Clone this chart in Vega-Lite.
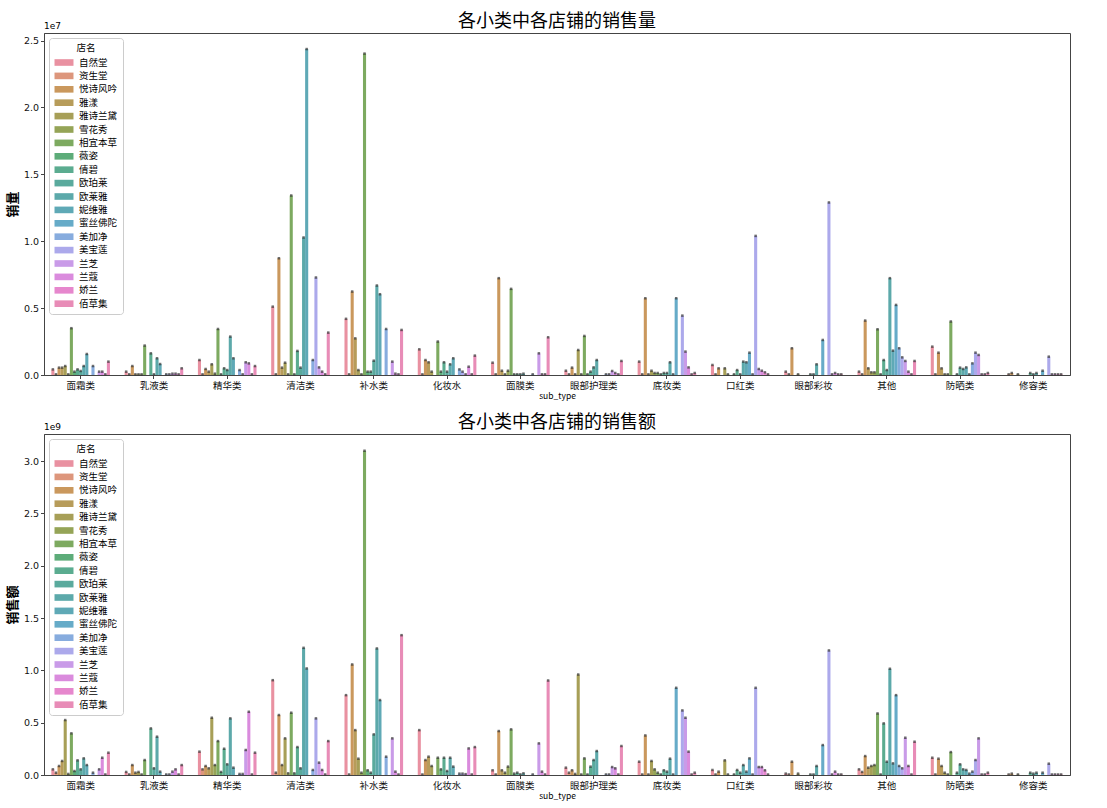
{
"$schema": "https://vega.github.io/schema/vega-lite/v6.json",
"padding": {"left": 5, "top": 12, "right": 5, "bottom": 2},
"data": {"values": [
{"t":"面霜类","s":"自然堂","q":420000,"a":54000000},
{"t":"面霜类","s":"资生堂","q":50000,"a":22000000},
{"t":"面霜类","s":"悦诗风吟","q":550000,"a":86000000},
{"t":"面霜类","s":"雅漾","q":550000,"a":134000000},
{"t":"面霜类","s":"雅诗兰黛","q":670000,"a":525000000},
{"t":"面霜类","s":"雪花秀","q":50000,"a":10000000},
{"t":"面霜类","s":"相宜本草","q":3500000,"a":398000000},
{"t":"面霜类","s":"薇姿","q":250000,"a":38000000},
{"t":"面霜类","s":"倩碧","q":420000,"a":140000000},
{"t":"面霜类","s":"欧珀莱","q":300000,"a":54000000},
{"t":"面霜类","s":"欧莱雅","q":670000,"a":159000000},
{"t":"面霜类","s":"妮维雅","q":1570000,"a":95000000},
{"t":"面霜类","s":"美加净","q":670000,"a":22000000},
{"t":"面霜类","s":"兰芝","q":250000,"a":54000000},
{"t":"面霜类","s":"兰蔻","q":250000,"a":165000000},
{"t":"面霜类","s":"娇兰","q":50000,"a":5000000},
{"t":"面霜类","s":"佰草集","q":1000000,"a":213000000},
{"t":"乳液类","s":"自然堂","q":250000,"a":29000000},
{"t":"乳液类","s":"资生堂","q":50000,"a":5000000},
{"t":"乳液类","s":"悦诗风吟","q":670000,"a":95000000},
{"t":"乳液类","s":"雅漾","q":50000,"a":22000000},
{"t":"乳液类","s":"雅诗兰黛","q":50000,"a":29000000},
{"t":"乳液类","s":"雪花秀","q":50000,"a":5000000},
{"t":"乳液类","s":"相宜本草","q":2200000,"a":143000000},
{"t":"乳液类","s":"倩碧","q":1620000,"a":445000000},
{"t":"乳液类","s":"欧珀莱","q":50000,"a":64000000},
{"t":"乳液类","s":"欧莱雅","q":1250000,"a":366000000},
{"t":"乳液类","s":"妮维雅","q":820000,"a":32000000},
{"t":"乳液类","s":"美加净","q":50000,"a":5000000},
{"t":"乳液类","s":"美宝莲","q":50000,"a":5000000},
{"t":"乳液类","s":"兰芝","q":100000,"a":32000000},
{"t":"乳液类","s":"兰蔻","q":100000,"a":54000000},
{"t":"乳液类","s":"娇兰","q":50000,"a":5000000},
{"t":"乳液类","s":"佰草集","q":500000,"a":95000000},
{"t":"精华类","s":"自然堂","q":1120000,"a":223000000},
{"t":"精华类","s":"资生堂","q":50000,"a":54000000},
{"t":"精华类","s":"悦诗风吟","q":450000,"a":86000000},
{"t":"精华类","s":"雅漾","q":250000,"a":64000000},
{"t":"精华类","s":"雅诗兰黛","q":800000,"a":547000000},
{"t":"精华类","s":"雪花秀","q":100000,"a":95000000},
{"t":"精华类","s":"相宜本草","q":3440000,"a":324000000},
{"t":"精华类","s":"薇姿","q":50000,"a":29000000},
{"t":"精华类","s":"倩碧","q":500000,"a":251000000},
{"t":"精华类","s":"欧珀莱","q":370000,"a":102000000},
{"t":"精华类","s":"欧莱雅","q":2870000,"a":541000000},
{"t":"精华类","s":"妮维雅","q":1250000,"a":70000000},
{"t":"精华类","s":"美加净","q":370000,"a":10000000},
{"t":"精华类","s":"美宝莲","q":50000,"a":10000000},
{"t":"精华类","s":"兰芝","q":950000,"a":239000000},
{"t":"精华类","s":"兰蔻","q":870000,"a":604000000},
{"t":"精华类","s":"娇兰","q":50000,"a":5000000},
{"t":"精华类","s":"佰草集","q":670000,"a":213000000},
{"t":"清洁类","s":"自然堂","q":5110000,"a":906000000},
{"t":"清洁类","s":"资生堂","q":50000,"a":22000000},
{"t":"清洁类","s":"悦诗风吟","q":8730000,"a":573000000},
{"t":"清洁类","s":"雅漾","q":550000,"a":95000000},
{"t":"清洁类","s":"雅诗兰黛","q":920000,"a":350000000},
{"t":"清洁类","s":"雪花秀","q":50000,"a":16000000},
{"t":"清洁类","s":"相宜本草","q":13420000,"a":595000000},
{"t":"清洁类","s":"薇姿","q":50000,"a":16000000},
{"t":"清洁类","s":"倩碧","q":1800000,"a":267000000},
{"t":"清洁类","s":"欧珀莱","q":550000,"a":64000000},
{"t":"清洁类","s":"欧莱雅","q":10280000,"a":1215000000},
{"t":"清洁类","s":"妮维雅","q":24370000,"a":1018000000},
{"t":"清洁类","s":"美加净","q":1120000,"a":48000000},
{"t":"清洁类","s":"美宝莲","q":7290000,"a":541000000},
{"t":"清洁类","s":"兰芝","q":570000,"a":118000000},
{"t":"清洁类","s":"兰蔻","q":250000,"a":48000000},
{"t":"清洁类","s":"娇兰","q":50000,"a":5000000},
{"t":"清洁类","s":"佰草集","q":3170000,"a":324000000},
{"t":"补水类","s":"自然堂","q":4200000,"a":763000000},
{"t":"补水类","s":"资生堂","q":50000,"a":5000000},
{"t":"补水类","s":"悦诗风吟","q":6240000,"a":1056000000},
{"t":"补水类","s":"雅漾","q":2740000,"a":429000000},
{"t":"补水类","s":"雅诗兰黛","q":370000,"a":156000000},
{"t":"补水类","s":"雪花秀","q":50000,"a":22000000},
{"t":"补水类","s":"相宜本草","q":24030000,"a":3098000000},
{"t":"补水类","s":"薇姿","q":250000,"a":45000000},
{"t":"补水类","s":"倩碧","q":250000,"a":22000000},
{"t":"补水类","s":"欧珀莱","q":1070000,"a":388000000},
{"t":"补水类","s":"欧莱雅","q":6690000,"a":1209000000},
{"t":"补水类","s":"妮维雅","q":6040000,"a":716000000},
{"t":"补水类","s":"美加净","q":3440000,"a":175000000},
{"t":"补水类","s":"兰芝","q":1000000,"a":350000000},
{"t":"补水类","s":"兰蔻","q":100000,"a":32000000},
{"t":"补水类","s":"娇兰","q":50000,"a":5000000},
{"t":"补水类","s":"佰草集","q":3370000,"a":1336000000},
{"t":"化妆水","s":"自然堂","q":1920000,"a":429000000},
{"t":"化妆水","s":"资生堂","q":50000,"a":5000000},
{"t":"化妆水","s":"悦诗风吟","q":1120000,"a":143000000},
{"t":"化妆水","s":"雅漾","q":950000,"a":175000000},
{"t":"化妆水","s":"雅诗兰黛","q":250000,"a":86000000},
{"t":"化妆水","s":"相宜本草","q":2500000,"a":165000000},
{"t":"化妆水","s":"薇姿","q":250000,"a":54000000},
{"t":"化妆水","s":"倩碧","q":950000,"a":165000000},
{"t":"化妆水","s":"欧珀莱","q":250000,"a":38000000},
{"t":"化妆水","s":"欧莱雅","q":800000,"a":165000000},
{"t":"化妆水","s":"妮维雅","q":1250000,"a":80000000},
{"t":"化妆水","s":"美加净","q":420000,"a":13000000},
{"t":"化妆水","s":"美宝莲","q":250000,"a":13000000},
{"t":"化妆水","s":"兰芝","q":50000,"a":8000000},
{"t":"化妆水","s":"兰蔻","q":620000,"a":254000000},
{"t":"化妆水","s":"娇兰","q":50000,"a":5000000},
{"t":"化妆水","s":"佰草集","q":1450000,"a":267000000},
{"t":"面膜类","s":"自然堂","q":920000,"a":45000000},
{"t":"面膜类","s":"资生堂","q":50000,"a":5000000},
{"t":"面膜类","s":"悦诗风吟","q":7240000,"a":420000000},
{"t":"面膜类","s":"雅漾","q":320000,"a":45000000},
{"t":"面膜类","s":"雅诗兰黛","q":50000,"a":22000000},
{"t":"面膜类","s":"雪花秀","q":320000,"a":80000000},
{"t":"面膜类","s":"相宜本草","q":6440000,"a":436000000},
{"t":"面膜类","s":"薇姿","q":50000,"a":13000000},
{"t":"面膜类","s":"倩碧","q":50000,"a":22000000},
{"t":"面膜类","s":"欧珀莱","q":50000,"a":6000000},
{"t":"面膜类","s":"欧莱雅","q":100000,"a":16000000},
{"t":"面膜类","s":"美加净","q":50000,"a":5000000},
{"t":"面膜类","s":"兰芝","q":1620000,"a":302000000},
{"t":"面膜类","s":"兰蔻","q":50000,"a":32000000},
{"t":"面膜类","s":"娇兰","q":50000,"a":5000000},
{"t":"面膜类","s":"佰草集","q":2820000,"a":903000000},
{"t":"眼部护理类","s":"自然堂","q":320000,"a":70000000},
{"t":"眼部护理类","s":"资生堂","q":50000,"a":22000000},
{"t":"眼部护理类","s":"悦诗风吟","q":550000,"a":45000000},
{"t":"眼部护理类","s":"雅漾","q":50000,"a":10000000},
{"t":"眼部护理类","s":"雅诗兰黛","q":1870000,"a":960000000},
{"t":"眼部护理类","s":"雪花秀","q":50000,"a":5000000},
{"t":"眼部护理类","s":"相宜本草","q":2920000,"a":159000000},
{"t":"眼部护理类","s":"薇姿","q":50000,"a":5000000},
{"t":"眼部护理类","s":"倩碧","q":250000,"a":80000000},
{"t":"眼部护理类","s":"欧珀莱","q":570000,"a":143000000},
{"t":"眼部护理类","s":"欧莱雅","q":1120000,"a":229000000},
{"t":"眼部护理类","s":"美加净","q":50000,"a":5000000},
{"t":"眼部护理类","s":"美宝莲","q":50000,"a":5000000},
{"t":"眼部护理类","s":"兰芝","q":300000,"a":76000000},
{"t":"眼部护理类","s":"兰蔻","q":150000,"a":64000000},
{"t":"眼部护理类","s":"娇兰","q":50000,"a":5000000},
{"t":"眼部护理类","s":"佰草集","q":1050000,"a":277000000},
{"t":"底妆类","s":"自然堂","q":1000000,"a":127000000},
{"t":"底妆类","s":"资生堂","q":50000,"a":5000000},
{"t":"底妆类","s":"悦诗风吟","q":5740000,"a":378000000},
{"t":"底妆类","s":"雅漾","q":50000,"a":5000000},
{"t":"底妆类","s":"雅诗兰黛","q":320000,"a":134000000},
{"t":"底妆类","s":"雪花秀","q":150000,"a":54000000},
{"t":"底妆类","s":"相宜本草","q":150000,"a":22000000},
{"t":"底妆类","s":"薇姿","q":50000,"a":5000000},
{"t":"底妆类","s":"倩碧","q":150000,"a":45000000},
{"t":"底妆类","s":"欧珀莱","q":150000,"a":32000000},
{"t":"底妆类","s":"欧莱雅","q":950000,"a":156000000},
{"t":"底妆类","s":"妮维雅","q":50000,"a":5000000},
{"t":"底妆类","s":"蜜丝佛陀","q":5740000,"a":833000000},
{"t":"底妆类","s":"美宝莲","q":4440000,"a":617000000},
{"t":"底妆类","s":"兰芝","q":1750000,"a":547000000},
{"t":"底妆类","s":"兰蔻","q":570000,"a":223000000},
{"t":"底妆类","s":"娇兰","q":50000,"a":5000000},
{"t":"底妆类","s":"佰草集","q":150000,"a":22000000},
{"t":"口红类","s":"自然堂","q":750000,"a":48000000},
{"t":"口红类","s":"资生堂","q":50000,"a":5000000},
{"t":"口红类","s":"悦诗风吟","q":500000,"a":32000000},
{"t":"口红类","s":"雅诗兰黛","q":500000,"a":140000000},
{"t":"口红类","s":"雪花秀","q":50000,"a":5000000},
{"t":"口红类","s":"薇姿","q":50000,"a":5000000},
{"t":"口红类","s":"倩碧","q":370000,"a":48000000},
{"t":"口红类","s":"欧珀莱","q":50000,"a":22000000},
{"t":"口红类","s":"欧莱雅","q":1000000,"a":95000000},
{"t":"口红类","s":"妮维雅","q":950000,"a":32000000},
{"t":"口红类","s":"蜜丝佛陀","q":1670000,"a":159000000},
{"t":"口红类","s":"美加净","q":50000,"a":5000000},
{"t":"口红类","s":"美宝莲","q":10400000,"a":833000000},
{"t":"口红类","s":"兰芝","q":450000,"a":76000000},
{"t":"口红类","s":"兰蔻","q":320000,"a":76000000},
{"t":"口红类","s":"娇兰","q":200000,"a":45000000},
{"t":"口红类","s":"佰草集","q":50000,"a":5000000},
{"t":"眼部彩妆","s":"自然堂","q":250000,"a":13000000},
{"t":"眼部彩妆","s":"资生堂","q":50000,"a":5000000},
{"t":"眼部彩妆","s":"悦诗风吟","q":2000000,"a":127000000},
{"t":"眼部彩妆","s":"雅诗兰黛","q":50000,"a":13000000},
{"t":"眼部彩妆","s":"倩碧","q":50000,"a":5000000},
{"t":"眼部彩妆","s":"欧珀莱","q":50000,"a":5000000},
{"t":"眼部彩妆","s":"欧莱雅","q":800000,"a":86000000},
{"t":"眼部彩妆","s":"蜜丝佛陀","q":2620000,"a":286000000},
{"t":"眼部彩妆","s":"美宝莲","q":12900000,"a":1190000000},
{"t":"眼部彩妆","s":"兰芝","q":50000,"a":5000000},
{"t":"眼部彩妆","s":"兰蔻","q":150000,"a":32000000},
{"t":"眼部彩妆","s":"娇兰","q":50000,"a":5000000},
{"t":"眼部彩妆","s":"佰草集","q":50000,"a":5000000},
{"t":"其他","s":"自然堂","q":250000,"a":54000000},
{"t":"其他","s":"资生堂","q":50000,"a":29000000},
{"t":"其他","s":"悦诗风吟","q":4070000,"a":181000000},
{"t":"其他","s":"雅漾","q":500000,"a":70000000},
{"t":"其他","s":"雅诗兰黛","q":200000,"a":86000000},
{"t":"其他","s":"雪花秀","q":200000,"a":95000000},
{"t":"其他","s":"相宜本草","q":3420000,"a":588000000},
{"t":"其他","s":"薇姿","q":50000,"a":5000000},
{"t":"其他","s":"倩碧","q":1120000,"a":493000000},
{"t":"其他","s":"欧珀莱","q":370000,"a":127000000},
{"t":"其他","s":"欧莱雅","q":7240000,"a":1015000000},
{"t":"其他","s":"妮维雅","q":1820000,"a":111000000},
{"t":"其他","s":"蜜丝佛陀","q":5240000,"a":763000000},
{"t":"其他","s":"美加净","q":2000000,"a":86000000},
{"t":"其他","s":"美宝莲","q":1320000,"a":64000000},
{"t":"其他","s":"兰芝","q":1050000,"a":356000000},
{"t":"其他","s":"兰蔻","q":250000,"a":86000000},
{"t":"其他","s":"娇兰","q":50000,"a":5000000},
{"t":"其他","s":"佰草集","q":1050000,"a":318000000},
{"t":"防晒类","s":"自然堂","q":2120000,"a":165000000},
{"t":"防晒类","s":"资生堂","q":50000,"a":5000000},
{"t":"防晒类","s":"悦诗风吟","q":1670000,"a":156000000},
{"t":"防晒类","s":"雅漾","q":500000,"a":86000000},
{"t":"防晒类","s":"雅诗兰黛","q":50000,"a":22000000},
{"t":"防晒类","s":"雪花秀","q":50000,"a":5000000},
{"t":"防晒类","s":"相宜本草","q":4000000,"a":219000000},
{"t":"防晒类","s":"倩碧","q":50000,"a":22000000},
{"t":"防晒类","s":"欧珀莱","q":550000,"a":102000000},
{"t":"防晒类","s":"欧莱雅","q":450000,"a":54000000},
{"t":"防晒类","s":"妮维雅","q":570000,"a":48000000},
{"t":"防晒类","s":"蜜丝佛陀","q":50000,"a":13000000},
{"t":"防晒类","s":"美加净","q":870000,"a":32000000},
{"t":"防晒类","s":"美宝莲","q":1670000,"a":143000000},
{"t":"防晒类","s":"兰芝","q":1500000,"a":350000000},
{"t":"防晒类","s":"兰蔻","q":50000,"a":5000000},
{"t":"防晒类","s":"娇兰","q":50000,"a":5000000},
{"t":"防晒类","s":"佰草集","q":150000,"a":22000000},
{"t":"修容类","s":"资生堂","q":50000,"a":5000000},
{"t":"修容类","s":"悦诗风吟","q":150000,"a":13000000},
{"t":"修容类","s":"雅诗兰黛","q":50000,"a":5000000},
{"t":"修容类","s":"倩碧","q":150000,"a":22000000},
{"t":"修容类","s":"欧珀莱","q":50000,"a":13000000},
{"t":"修容类","s":"欧莱雅","q":150000,"a":22000000},
{"t":"修容类","s":"蜜丝佛陀","q":320000,"a":22000000},
{"t":"修容类","s":"美宝莲","q":1370000,"a":108000000},
{"t":"修容类","s":"兰芝","q":50000,"a":5000000},
{"t":"修容类","s":"兰蔻","q":50000,"a":5000000},
{"t":"修容类","s":"娇兰","q":50000,"a":5000000},
{"t":"修容类","s":"佰草集","q":50000,"a":5000000}
]},
"vconcat": [
{
"width": 1026, "height": 342,
"title": {"text": "各小类中各店铺的销售量", "fontSize": 18, "fontWeight": "normal", "offset": -9},
"layer": [
{"mark": {"type": "bar", "fillOpacity": 0.88},
 "encoding": {
  "x": {"field": "t", "type": "nominal", "sort": ["面霜类","乳液类","精华类","清洁类","补水类","化妆水","面膜类","眼部护理类","底妆类","口红类","眼部彩妆","其他","防晒类","修容类"], "scale": {"paddingInner": 0.2, "paddingOuter": 0.1}, "axis": {"title": "sub_type", "labelAngle": 0}},
  "xOffset": {"field": "s", "type": "nominal", "sort": ["自然堂","资生堂","悦诗风吟","雅漾","雅诗兰黛","雪花秀","相宜本草","薇姿","倩碧","欧珀莱","欧莱雅","妮维雅","蜜丝佛陀","美加净","美宝莲","兰芝","兰蔻","娇兰","佰草集"], "scale": {"paddingInner": 0, "paddingOuter": 0}},
  "y": {"field": "q", "type": "quantitative", "scale": {"domain": [0, 25570000], "nice": false}, "axis": {"title": "销量", "values": [0, 5000000, 10000000, 15000000, 20000000, 25000000], "labelExpr": "format(datum.value / 10000000, '.1f')"}},
  "color": {"field": "s", "type": "nominal", "sort": ["自然堂","资生堂","悦诗风吟","雅漾","雅诗兰黛","雪花秀","相宜本草","薇姿","倩碧","欧珀莱","欧莱雅","妮维雅","蜜丝佛陀","美加净","美宝莲","兰芝","兰蔻","娇兰","佰草集"], "scale": {"domain": ["自然堂","资生堂","悦诗风吟","雅漾","雅诗兰黛","雪花秀","相宜本草","薇姿","倩碧","欧珀莱","欧莱雅","妮维雅","蜜丝佛陀","美加净","美宝莲","兰芝","兰蔻","娇兰","佰草集"], "range": ["#e68294","#d8876a","#c38a47","#ad8e43","#9b9240","#869740","#6b9e4a","#47a167","#44a081","#439e8f","#459d9e","#499dac","#519fc0","#76a0da","#a19de8","#c18de5","#d57bd8","#e376c6","#e57cad"]}, "legend": {"title": "店名"}}
 }},
{"mark": {"type": "tick", "color": "#333", "orient": "horizontal", "size": 2.5, "thickness": 2.5},
 "encoding": {
  "x": {"field": "t", "type": "nominal", "sort": ["面霜类","乳液类","精华类","清洁类","补水类","化妆水","面膜类","眼部护理类","底妆类","口红类","眼部彩妆","其他","防晒类","修容类"]},
  "xOffset": {"field": "s", "type": "nominal", "sort": ["自然堂","资生堂","悦诗风吟","雅漾","雅诗兰黛","雪花秀","相宜本草","薇姿","倩碧","欧珀莱","欧莱雅","妮维雅","蜜丝佛陀","美加净","美宝莲","兰芝","兰蔻","娇兰","佰草集"]},
  "y": {"field": "q", "type": "quantitative"}
 }},
{"data": {"values": [{"lab": "1e7"}]},
 "mark": {"type": "text", "align": "left", "baseline": "bottom", "fontSize": 9, "dy": -2, "font": "DejaVu Sans"},
 "encoding": {"x": {"value": 0}, "y": {"value": 0}, "text": {"field": "lab"}}}
]
},
{
"width": 1026, "height": 341,
"title": {"text": "各小类中各店铺的销售额", "fontSize": 18, "fontWeight": "normal", "offset": -9},
"layer": [
{"mark": {"type": "bar", "fillOpacity": 0.88},
 "encoding": {
  "x": {"field": "t", "type": "nominal", "sort": ["面霜类","乳液类","精华类","清洁类","补水类","化妆水","面膜类","眼部护理类","底妆类","口红类","眼部彩妆","其他","防晒类","修容类"], "scale": {"paddingInner": 0.2, "paddingOuter": 0.1}, "axis": {"title": "sub_type", "labelAngle": 0}},
  "xOffset": {"field": "s", "type": "nominal", "sort": ["自然堂","资生堂","悦诗风吟","雅漾","雅诗兰黛","雪花秀","相宜本草","薇姿","倩碧","欧珀莱","欧莱雅","妮维雅","蜜丝佛陀","美加净","美宝莲","兰芝","兰蔻","娇兰","佰草集"], "scale": {"paddingInner": 0, "paddingOuter": 0}},
  "y": {"field": "a", "type": "quantitative", "scale": {"domain": [0, 3258000000], "nice": false}, "axis": {"title": "销售额", "values": [0, 500000000, 1000000000, 1500000000, 2000000000, 2500000000, 3000000000], "labelExpr": "format(datum.value / 1000000000, '.1f')"}},
  "color": {"field": "s", "type": "nominal", "sort": ["自然堂","资生堂","悦诗风吟","雅漾","雅诗兰黛","雪花秀","相宜本草","薇姿","倩碧","欧珀莱","欧莱雅","妮维雅","蜜丝佛陀","美加净","美宝莲","兰芝","兰蔻","娇兰","佰草集"], "scale": {"domain": ["自然堂","资生堂","悦诗风吟","雅漾","雅诗兰黛","雪花秀","相宜本草","薇姿","倩碧","欧珀莱","欧莱雅","妮维雅","蜜丝佛陀","美加净","美宝莲","兰芝","兰蔻","娇兰","佰草集"], "range": ["#e68294","#d8876a","#c38a47","#ad8e43","#9b9240","#869740","#6b9e4a","#47a167","#44a081","#439e8f","#459d9e","#499dac","#519fc0","#76a0da","#a19de8","#c18de5","#d57bd8","#e376c6","#e57cad"]}, "legend": {"title": "店名"}}
 }},
{"mark": {"type": "tick", "color": "#333", "orient": "horizontal", "size": 2.5, "thickness": 2.5},
 "encoding": {
  "x": {"field": "t", "type": "nominal", "sort": ["面霜类","乳液类","精华类","清洁类","补水类","化妆水","面膜类","眼部护理类","底妆类","口红类","眼部彩妆","其他","防晒类","修容类"]},
  "xOffset": {"field": "s", "type": "nominal", "sort": ["自然堂","资生堂","悦诗风吟","雅漾","雅诗兰黛","雪花秀","相宜本草","薇姿","倩碧","欧珀莱","欧莱雅","妮维雅","蜜丝佛陀","美加净","美宝莲","兰芝","兰蔻","娇兰","佰草集"]},
  "y": {"field": "a", "type": "quantitative"}
 }},
{"data": {"values": [{"lab": "1e9"}]},
 "mark": {"type": "text", "align": "left", "baseline": "bottom", "fontSize": 9, "dy": -2, "font": "DejaVu Sans"},
 "encoding": {"x": {"value": 0}, "y": {"value": 0}, "text": {"field": "lab"}}}
]
}
],
"resolve": {"legend": {"color": "independent"}, "scale": {"y": "independent"}},
"config": {
 "font": "Noto Sans CJK SC",
 "view": {"stroke": "#444", "strokeWidth": 1},
 "concat": {"spacing": 13},
 "title": {"font": "Noto Sans CJK SC", "color": "#000"},
 "axis": {"domainColor": "#444", "tickColor": "#444", "labelColor": "#111", "grid": false, "tickSize": 3.5, "labelFontSize": 9.5, "labelFont": "Noto Sans CJK SC", "titleFont": "Noto Sans CJK SC", "titleColor": "#000"},
 "axisX": {"titleFontSize": 8.5, "titleFontWeight": "normal", "titlePadding": 1, "labelPadding": 2},
 "axisY": {"titleFontSize": 13, "titleFontWeight": "bold", "titlePadding": 4, "labelFont": "DejaVu Sans", "labelFontSize": 9.5},
 "legend": {"orient": "top-left", "offset": 5, "titleFontSize": 9.5, "titleFontWeight": "normal", "titleAnchor": "middle", "labelFontSize": 9.5, "symbolType": "M-2,-0.7L2,-0.7L2,0.7L-2,0.7Z", "symbolSize": 90, "symbolStrokeWidth": 0, "symbolOpacity": 0.88, "rowPadding": 3.4, "padding": 5, "fillColor": "white", "strokeColor": "#ccc", "cornerRadius": 3, "labelOffset": 10, "symbolOffset": 5}
}
}
